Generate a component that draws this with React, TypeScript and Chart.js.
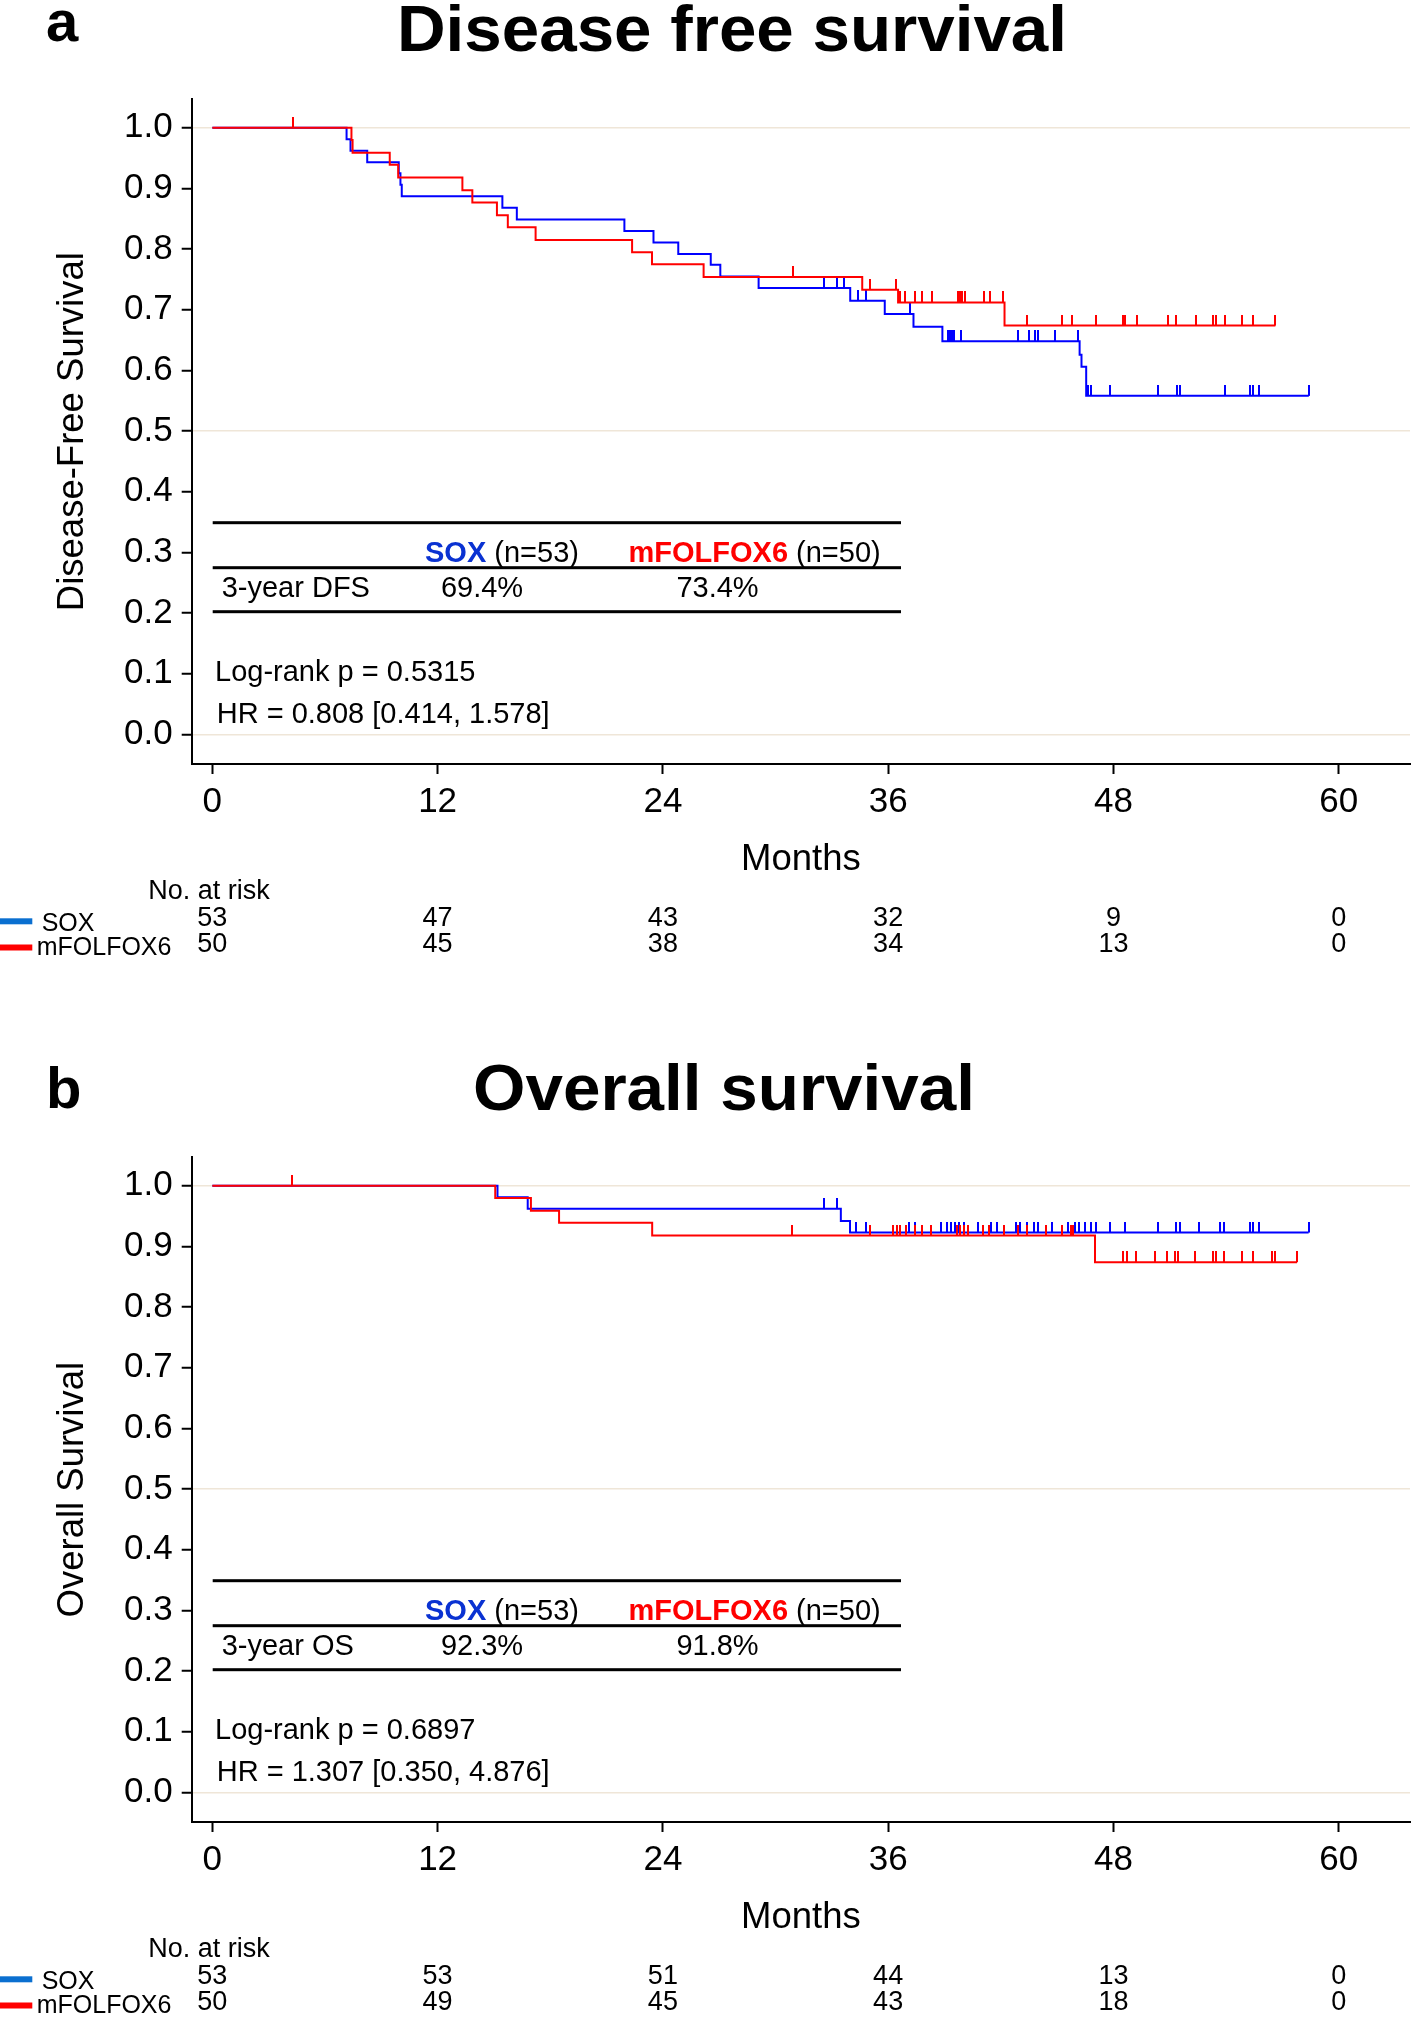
import React, { useEffect, useRef } from "react";
import { Chart, registerables } from "chart.js";

Chart.register(...registerables);

const FONT = "'Liberation Sans', Arial, Helvetica, sans-serif";

// ---------- shared axis data ----------
const MONTH_TICKS = [0, 12, 24, 36, 48, 60];
const SURV_TICKS = [0, 0.1, 0.2, 0.3, 0.4, 0.5, 0.6, 0.7, 0.8, 0.9, 1.0];
const GRID_VALUES = [0, 0.5, 1.0];
const ARM_NAMES = ["SOX", "mFOLFOX6"];
const ARM_N = ["(n=53)", "(n=50)"];

// ---------- Disease free survival ----------
const DFS_SOX_TIME = [0, 7.15, 7.36, 8.25, 9.93, 10.02, 10.09, 15.45, 16.22, 21.95, 23.5, 24.82, 26.55, 27.06, 29.1, 33.98, 35.82, 37.35, 38.89, 46.2, 46.3, 46.55, 58.41];
const DFS_SOX_SURV = [1, 0.981, 0.962, 0.943, 0.925, 0.906, 0.887, 0.868, 0.849, 0.83, 0.811, 0.792, 0.774, 0.755, 0.736, 0.715, 0.693, 0.672, 0.648, 0.626, 0.606, 0.558, 0.558];
const DFS_SOX_CENSOR = [32.58, 33.27, 33.65, 34.37, 34.8, 37.17, 39.2, 39.3, 39.4, 39.5, 39.9, 42.92, 43.48, 43.83, 43.98, 44.87, 46.1, 46.63, 46.79, 47.8, 50.4, 51.41, 51.57, 53.96, 55.29, 55.44, 55.75, 58.41];
const DFS_FOX_TIME = [0, 7.41, 7.47, 9.45, 9.9, 13.32, 13.85, 15.16, 15.74, 17.22, 22.36, 23.42, 26.17, 34.62, 36.53, 42.2, 56.63];
const DFS_FOX_SURV = [1, 0.98, 0.959, 0.939, 0.918, 0.897, 0.877, 0.856, 0.836, 0.815, 0.795, 0.775, 0.754, 0.733, 0.712, 0.674, 0.674];
const DFS_FOX_CENSOR = [4.28, 30.91, 35.03, 36.4, 36.61, 36.91, 37.42, 37.83, 38.31, 39.71, 39.84, 39.96, 40.09, 41.11, 41.44, 42.12, 43.4, 45.26, 45.77, 47.09, 48.49, 48.62, 49.26, 50.91, 51.34, 52.39, 53.33, 53.45, 53.96, 54.85, 55.44, 56.63];
const DFS_RISK_SOX = [53, 47, 43, 32, 9, 0];
const DFS_RISK_FOX = [50, 45, 38, 34, 13, 0];
const DFS_3YR = ["69.4%", "73.4%"];

// ---------- Overall survival ----------
const OS_SOX_TIME = [0, 15.19, 16.8, 33.48, 33.97, 58.4];
const OS_SOX_SURV = [1, 0.981, 0.962, 0.942, 0.923, 0.923];
const OS_SOX_CENSOR = [32.58, 33.25, 34.31, 34.82, 37.1, 37.44, 38.83, 39.14, 39.34, 39.55, 39.75, 40.05, 40.77, 41.48, 41.79, 42.81, 43.01, 43.42, 43.79, 43.99, 44.74, 45.56, 45.96, 46.17, 46.47, 46.78, 47.09, 47.8, 48.61, 50.39, 51.36, 51.57, 52.55, 53.67, 53.87, 55.29, 55.44, 55.74, 58.4];
const OS_FOX_TIME = [0, 15.07, 16.97, 18.47, 23.43, 47.02, 57.78];
const OS_FOX_SURV = [1, 0.98, 0.959, 0.939, 0.918, 0.874, 0.874];
const OS_FOX_CENSOR = [4.25, 30.9, 35.02, 36.28, 36.49, 36.65, 36.94, 37.41, 37.81, 38.28, 39.65, 39.85, 40.05, 40.26, 41.07, 41.38, 42.15, 42.91, 43.38, 44.43, 45.25, 45.76, 45.86, 48.51, 48.72, 49.22, 50.24, 50.85, 51.26, 51.46, 52.34, 53.3, 53.44, 53.91, 54.83, 55.44, 56.46, 56.62, 57.78];
const OS_RISK_SOX = [53, 53, 51, 44, 13, 0];
const OS_RISK_FOX = [50, 49, 45, 43, 18, 0];
const OS_3YR = ["92.3%", "91.8%"];

type Panel = {
  letter: string;
  title: string;
  titleX: number;
  titleW: number;
  letterBase: number;
  titleBase: number;
  yTitle: string;
  rowLabel: string;
  pct: string[];
  logrank: string;
  hr: string;
  soxTime: number[];
  soxSurv: number[];
  soxCensor: number[];
  foxTime: number[];
  foxSurv: number[];
  foxCensor: number[];
  riskSox: number[];
  riskFox: number[];
};

const PANELS: Panel[] = [
  {
    letter: "a", title: "Disease free survival", titleX: 397, titleW: 670, letterBase: 41, titleBase: 51,
    yTitle: "Disease-Free Survival", rowLabel: "3-year DFS", pct: DFS_3YR,
    logrank: "Log-rank p = 0.5315", hr: "HR = 0.808 [0.414, 1.578]",
    soxTime: DFS_SOX_TIME, soxSurv: DFS_SOX_SURV, soxCensor: DFS_SOX_CENSOR,
    foxTime: DFS_FOX_TIME, foxSurv: DFS_FOX_SURV, foxCensor: DFS_FOX_CENSOR,
    riskSox: DFS_RISK_SOX, riskFox: DFS_RISK_FOX,
  },
  {
    letter: "b", title: "Overall survival", titleX: 473, titleW: 502, letterBase: 50, titleBase: 52,
    yTitle: "Overall Survival", rowLabel: "3-year OS", pct: OS_3YR,
    logrank: "Log-rank p = 0.6897", hr: "HR = 1.307 [0.350, 4.876]",
    soxTime: OS_SOX_TIME, soxSurv: OS_SOX_SURV, soxCensor: OS_SOX_CENSOR,
    foxTime: OS_FOX_TIME, foxSurv: OS_FOX_SURV, foxCensor: OS_FOX_CENSOR,
    riskSox: OS_RISK_SOX, riskFox: OS_RISK_FOX,
  },
];

const BLUE = "#0000ff";
const RED = "#ff0000";
const HEAD_BLUE = "#0a32d2";
const LEG_BLUE = "#0a6fd0";

function survAt(times: number[], surv: number[], t: number) {
  let s = surv[0];
  for (let i = 0; i < times.length; i++) if (times[i] <= t) s = surv[i];
  return s;
}

function tickImage(color: string) {
  const c = document.createElement("canvas");
  c.width = 2;
  c.height = 22;
  const g = c.getContext("2d")!;
  g.fillStyle = color;
  g.fillRect(0, 0, 2, 11);
  return c;
}

function txt(ctx: CanvasRenderingContext2D, s: string, x: number, y: number, size: number, color = "#000", align: CanvasTextAlign = "left", bold = false) {
  ctx.font = `${bold ? "bold " : ""}${size}px ${FONT}`;
  ctx.fillStyle = color;
  ctx.textAlign = align;
  ctx.textBaseline = "alphabetic";
  ctx.fillText(s, x, y);
  return ctx.measureText(s).width;
}

function drawAnnot(chart: any, p: Panel) {
  const ctx: CanvasRenderingContext2D = chart.ctx;
  ctx.save();
  // panel letter
  txt(ctx, p.letter, 46, p.letterBase, 58, "#000", "left", true);
  // title (fitted to reference width)
  ctx.save();
  ctx.font = `bold 65px ${FONT}`;
  const w = ctx.measureText(p.title).width;
  ctx.translate(p.titleX, p.titleBase);
  ctx.scale(p.titleW / w, 1);
  ctx.fillStyle = "#000";
  ctx.textAlign = "left";
  ctx.textBaseline = "alphabetic";
  ctx.fillText(p.title, 0, 0);
  ctx.restore();

  // summary table
  ctx.fillStyle = "#000";
  for (const y of [522.7, 567.7, 611.7]) ctx.fillRect(212.7, y - 1.5, 688.3, 3);
  const sw = txt(ctx, ARM_NAMES[0], 425, 562.3, 29, HEAD_BLUE, "left", true);
  txt(ctx, " " + ARM_N[0], 425 + sw, 562.3, 29);
  const fw = txt(ctx, ARM_NAMES[1], 628.5, 562.3, 29, RED, "left", true);
  txt(ctx, " " + ARM_N[1], 628.5 + fw, 562.3, 29);
  txt(ctx, p.rowLabel, 221.7, 597.3, 29);
  txt(ctx, p.pct[0], 482, 597.3, 29, "#000", "center");
  txt(ctx, p.pct[1], 717.5, 597.3, 29, "#000", "center");
  txt(ctx, p.logrank, 215, 680.7, 29);
  txt(ctx, p.hr, 216.7, 723.3, 29);

  // number at risk
  const xs = chart.scales.x;
  txt(ctx, "No. at risk", 148.3, 899.3, 27);
  ctx.fillStyle = LEG_BLUE;
  ctx.fillRect(0, 918.3, 32.3, 6);
  ctx.fillStyle = RED;
  ctx.fillRect(0, 944.5, 32.3, 6);
  txt(ctx, ARM_NAMES[0], 41.7, 930.7, 25);
  txt(ctx, ARM_NAMES[1], 36.7, 955, 25);
  MONTH_TICKS.forEach((m, i) => {
    const x = xs.getPixelForValue(m);
    txt(ctx, String(p.riskSox[i]), x, 925.5, 27, "#000", "center");
    txt(ctx, String(p.riskFox[i]), x, 952, 27, "#000", "center");
  });
  ctx.restore();
}

function makeChart(canvas: HTMLCanvasElement, p: Panel) {
  const redTick = tickImage(RED);
  const blueTick = tickImage(BLUE);
  const curve = (t: number[], s: number[]) => t.map((x, i) => ({ x, y: s[i] }));
  const cens = (c: number[], t: number[], s: number[]) => c.map((x) => ({ x, y: survAt(t, s, x) }));
  const lineDs = (data: any[], color: string) => ({
    type: "line", data, borderColor: color, backgroundColor: color, borderWidth: 2,
    stepped: "before", pointRadius: 0, pointHoverRadius: 0, fill: false, tension: 0,
    borderCapStyle: "butt", borderJoinStyle: "miter",
  });
  const censDs = (data: any[], img: HTMLCanvasElement, color: string) => ({
    type: "line", data, showLine: false, pointStyle: img, pointRadius: 6, pointHoverRadius: 6,
    borderColor: color, backgroundColor: color,
  });

  return new Chart(canvas, {
    type: "line",
    data: {
      datasets: [
        lineDs(curve(p.foxTime, p.foxSurv), RED),
        censDs(cens(p.foxCensor, p.foxTime, p.foxSurv), redTick, RED),
        lineDs(curve(p.soxTime, p.soxSurv), BLUE),
        censDs(cens(p.soxCensor, p.soxTime, p.soxSurv), blueTick, BLUE),
      ] as any,
    },
    options: {
      animation: false,
      responsive: false,
      events: [],
      devicePixelRatio: 1,
      layout: { padding: { left: 0, right: 3, top: 99.3, bottom: 0 } },
      plugins: { legend: { display: false }, tooltip: { enabled: false }, title: { display: false } },
      scales: {
        x: {
          type: "linear", min: -1.1, max: 63.8,
          afterBuildTicks: (s: any) => { s.ticks = MONTH_TICKS.map((v) => ({ value: v })); },
          afterFit: (s: any) => { s.height = 294; },
          ticks: { autoSkip: false, maxRotation: 0, minRotation: 0, padding: 7, color: "#000", font: { size: 35, family: FONT }, callback: (v: any) => String(v) },
          grid: { drawOnChartArea: false, drawTicks: true, tickLength: 10, tickColor: "#000", tickWidth: 2 },
          border: { display: true, color: "#000", width: 2 },
          title: { display: true, text: "Months", color: "#000", font: { size: 36.5, family: FONT }, padding: { top: 0, bottom: 176 } },
        },
        y: {
          type: "linear", min: -0.049, max: 1.047,
          afterBuildTicks: (s: any) => { s.ticks = SURV_TICKS.map((v) => ({ value: v })); },
          afterFit: (s: any) => { s.width = 191.7; },
          ticks: { padding: 9, color: "#000", font: { size: 35, family: FONT }, callback: (v: any) => Number(v).toFixed(1) },
          grid: {
            drawOnChartArea: true, drawTicks: true, tickLength: 10, tickColor: "#000", tickWidth: 2, lineWidth: 1.5,
            color: (c: any) => (c.tick && GRID_VALUES.some((g) => Math.abs(c.tick.value - g) < 1e-6) ? "#efe6d8" : "rgba(0,0,0,0)"),
          },
          border: { display: true, color: "#000", width: 2 },
          title: { display: true, text: p.yTitle, color: "#000", font: { size: 36.5, family: FONT }, padding: { top: 51, bottom: 0 } },
        },
      },
    } as any,
    plugins: [{ id: "kmAnnot", afterDraw: (chart: any) => drawAnnot(chart, p) }],
  });
}

export default function App() {
  const refA = useRef<HTMLCanvasElement>(null);
  const refB = useRef<HTMLCanvasElement>(null);
  useEffect(() => {
    const a = makeChart(refA.current!, PANELS[0]);
    const b = makeChart(refB.current!, PANELS[1]);
    return () => {
      a.destroy();
      b.destroy();
    };
  }, []);
  return (
    <div style={{ position: "absolute", left: 0, top: 0, width: 1417, height: 2017, overflow: "hidden", background: "#fff" }}>
      <canvas ref={refA} width={1417} height={1058} style={{ position: "absolute", left: 0, top: 0, width: 1417, height: 1058 }} />
      <canvas ref={refB} width={1417} height={1058} style={{ position: "absolute", left: 0, top: 1058, width: 1417, height: 1058 }} />
    </div>
  );
}
